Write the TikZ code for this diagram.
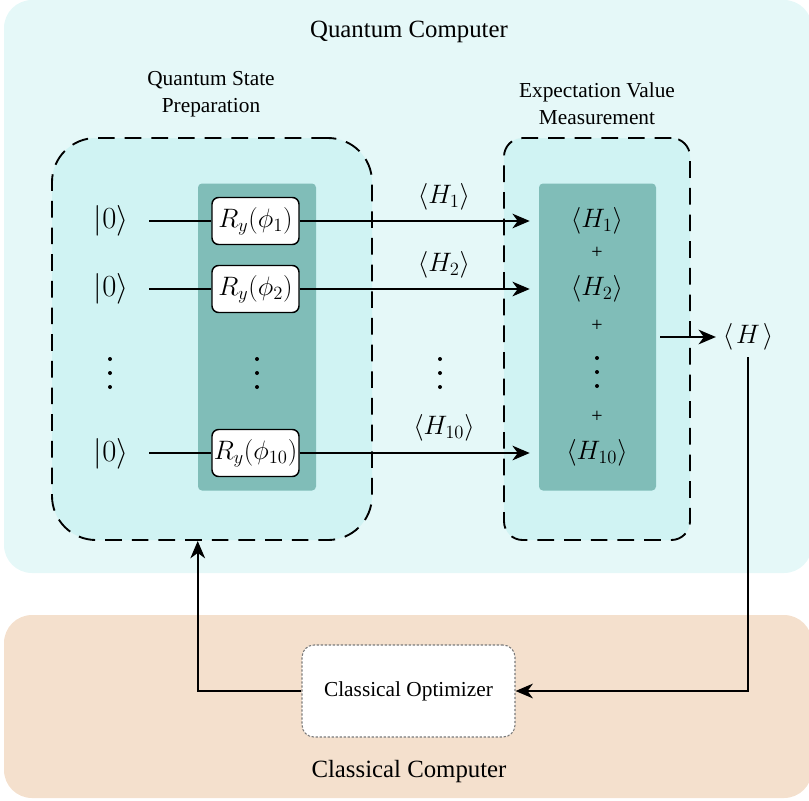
\RequirePackage{fix-cm}
\documentclass[tikz,border=0pt]{standalone}
\usepackage{fontspec}
\setmainfont{Liberation Serif}
\usetikzlibrary{arrows.meta,calc}

\definecolor{qcbg}{HTML}{E5F8F8}
\definecolor{ccbg}{HTML}{F4E0CD}
\definecolor{boxbg}{HTML}{D0F3F3}
\definecolor{teal}{HTML}{80BDB8}
\definecolor{dotgray}{HTML}{7A7A7A}

\tikzset{
  region/.style={rounded corners=21pt},
  title/.style={font=\fontsize{18.6}{22}\selectfont, inner sep=0pt},
  subtitle/.style={font=\fontsize{16}{20}\selectfont, align=center, inner sep=0pt},
  dashbox/.style={draw=black, fill=boxbg, line width=1.4pt,
    dash pattern=on 12.5pt off 7.5pt, inner sep=0pt},
  tealbox/.style={fill=teal, rounded corners=3pt, inner sep=0pt,
    minimum height=230.25pt},
  gate/.style={draw=black, fill=white, line width=1.1pt, rounded corners=5pt,
    minimum width=65.25pt, minimum height=35.25pt, inner sep=0pt,
    font=\fontsize{20}{24}\selectfont},
  mathlbl/.style={font=\fontsize{20}{24}\selectfont, inner sep=0pt},
  ket/.style={font=\fontsize{23}{27}\selectfont, inner sep=0pt},
  % vertical ellipsis drawn as three dots
  vdotcol/.style={inner sep=0pt, minimum width=6pt, minimum height=26pt,
    path picture={
      \fill (path picture bounding box.center) circle (1.5pt);
      \fill ([yshift=10.5pt]path picture bounding box.center) circle (1.5pt);
      \fill ([yshift=-10.5pt]path picture bounding box.center) circle (1.5pt);
    }},
  plus/.style={font=\fontsize{15}{18}\selectfont, inner sep=0pt},
  wire/.style={line width=1.5pt},
  arr/.style={line width=1.5pt, -{Stealth[length=13pt,width=11pt,inset=4pt]}},
  optbox/.style={draw=dotgray, fill=white, line width=0.8pt,
    dash pattern=on 1.8pt off 1.2pt, rounded corners=9pt,
    minimum width=159.75pt, minimum height=69pt, inner sep=0pt,
    font=\fontsize{16}{20}\selectfont},
}

\begin{document}
\begin{tikzpicture}[x=0.75pt,y=-0.75pt]
\useasboundingbox (0,0) rectangle (809,800);

% the two computers
\fill[qcbg, region] (4,0) rectangle (812,573);
\fill[ccbg, region] (4,615) rectangle (812,798);
\node[title] (qc) at (409,32) {Quantum Computer};
\node[title] (cc) at (409,772) {Classical Computer};

% stage headings
\node[subtitle] (prep) at (211,94) {Quantum State\\Preparation};
\node[subtitle] (meas) at (597,104) {Expectation Value\\Measurement};

% dashed stage frames
\node[dashbox, rounded corners=33pt, minimum width=240pt, minimum height=301.5pt]
  (lbox) at (212,339) {};
\node[dashbox, rounded corners=14pt, minimum width=139.5pt, minimum height=301.5pt]
  (rbox) at (597,339) {};

% dark panels
\node[tealbox, minimum width=88.5pt] (lteal) at (257,337) {};
\node[tealbox, minimum width=87.75pt] (rteal) at (597.5,337) {};

% qubits
\node[ket] (k1) at (111,221) {$|0\rangle$};
\node[ket] (k2) at (111,289) {$|0\rangle$};
\node[ket] (k10) at (111,454) {$|0\rangle$};
\node[vdotcol] (kd) at (110,373) {};

% rotation gates
\node[gate] (g1) at (255.5,221) {$R_y(\phi_1)$};
\node[gate] (g2) at (255.5,289) {$R_y(\phi_2)$};
\node[gate] (g10) at (255.5,453) {$R_y(\phi_{10})$};
\node[vdotcol] (gd) at (257,373) {};

% wires into the gates
\draw[wire] ([xshift=15.5pt]k1.east |- g1.west) -- (g1.west);
\draw[wire] ([xshift=15.5pt]k2.east |- g2.west) -- (g2.west);
\draw[wire] ([xshift=15.5pt]k10.east |- g10.west) -- (g10.west);

% wires out to the measurement
\draw[arr, shorten >=6.75pt] (g1.east) -- (g1.east -| rteal.west);
\draw[arr, shorten >=6.75pt] (g2.east) -- (g2.east -| rteal.west);
\draw[arr, shorten >=6.75pt] (g10.east) -- (g10.east -| rteal.west);

% labels on the wires
\node[mathlbl] (w1) at (444,197) {$\langle H_1\rangle$};
\node[mathlbl] (w2) at (444,265) {$\langle H_2\rangle$};
\node[mathlbl] (w10) at (444,428) {$\langle H_{10}\rangle$};
\node[vdotcol] (wd) at (440,373) {};

% sum of expectation values
\node[mathlbl] (e1) at (597,221) {$\langle H_1\rangle$};
\node[plus] (p1) at (597,253) {+};
\node[mathlbl] (e2) at (597,289) {$\langle H_2\rangle$};
\node[plus] (p2) at (597,326) {+};
\node[vdotcol] (ed) at (597,372) {};
\node[plus] (p3) at (597,417) {+};
\node[mathlbl] (e10) at (597,453) {$\langle H_{10}\rangle$};

% total energy
\node[mathlbl, inner sep=5pt] (H) at (748,337) {$\langle\mkern2mu H\mkern2mu\rangle$};
\draw[arr] ([xshift=3pt]rteal.east) -- (H.west);

% classical optimizer and feedback loop
\node[optbox] (opt) at (408.5,691) {Classical Optimizer};
\draw[arr] (H.south) |- (opt.east);
\draw[arr] (opt.west) -| (lteal.west |- lbox.south);

\end{tikzpicture}
\end{document}
